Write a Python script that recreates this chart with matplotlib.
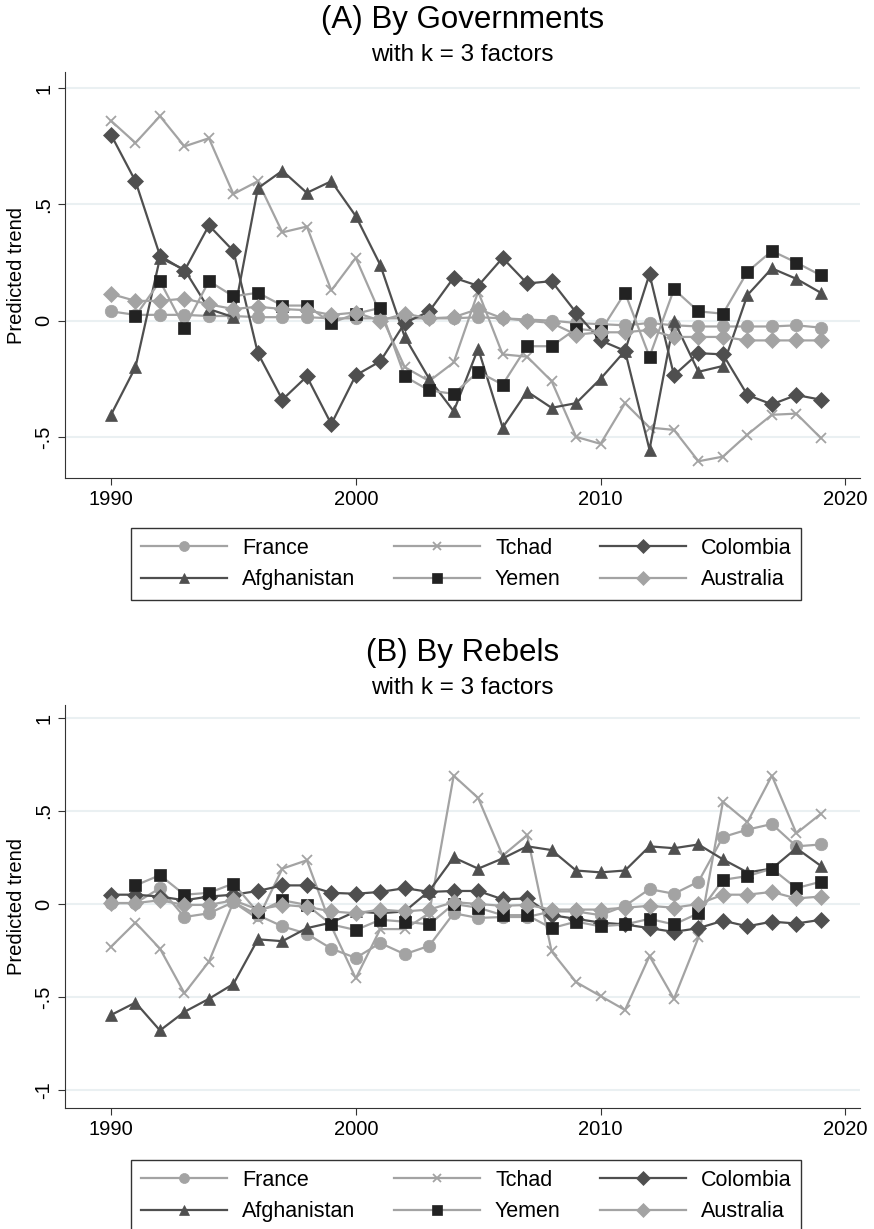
import numpy as np
import matplotlib
matplotlib.use("Agg")
import matplotlib.pyplot as plt

plt.rcParams['font.family'] = ['Liberation Sans', 'DejaVu Sans']

years = list(range(1990, 2020))
nan = np.nan

# (A) By Governments
france_a = [0.04, 0.025, 0.025, 0.025, 0.02, 0.02, 0.015, 0.015, 0.015, 0.01, 0.01, 0.01, 0.01, 0.01, 0.01,
            0.015, 0.01, 0.005, 0.0, -0.01, -0.015, -0.02, -0.01, -0.02, -0.025, -0.025, -0.025, -0.025, -0.02, -0.03]
tchad_a = [0.86, 0.765, 0.88, 0.75, 0.785, 0.545, 0.60, 0.38, 0.405, 0.13, 0.27, 0.03, -0.20, -0.26, -0.18,
           0.125, -0.145, -0.155, -0.26, -0.50, -0.53, -0.355, -0.46, -0.47, -0.605, -0.585, -0.49, -0.405, -0.40, -0.505]
colombia_a = [0.80, 0.60, 0.28, 0.215, 0.41, 0.30, -0.14, -0.34, -0.24, -0.445, -0.235, -0.175, -0.01, 0.04, 0.185,
              0.15, 0.27, 0.16, 0.17, 0.035, -0.085, -0.13, 0.20, -0.235, -0.14, -0.145, -0.32, -0.36, -0.32, -0.34]
afghanistan_a = [-0.405, -0.20, 0.27, 0.22, 0.05, 0.015, 0.57, 0.645, 0.55, 0.60, 0.45, 0.24, -0.07, -0.25, -0.39,
                 -0.12, -0.46, -0.305, -0.375, -0.355, -0.25, -0.13, -0.555, 0.0, -0.22, -0.195, 0.11, 0.225, 0.18, 0.12]
yemen_a = [nan, 0.02, 0.17, -0.03, 0.17, 0.105, 0.12, 0.065, 0.065, -0.01, 0.03, 0.055, -0.24, -0.30, -0.315,
           -0.22, -0.275, -0.11, -0.11, -0.035, -0.045, 0.12, -0.155, 0.135, 0.04, 0.03, 0.21, 0.30, 0.25, 0.195]
australia_a = [0.115, 0.085, 0.085, 0.095, 0.07, 0.05, 0.06, 0.05, 0.045, 0.025, 0.035, 0.0, 0.03, 0.01, 0.015,
               0.05, 0.01, 0.0, -0.01, -0.06, -0.05, -0.05, -0.04, -0.07, -0.07, -0.07, -0.085, -0.085, -0.085, -0.085]

# (B) By Rebels
france_b = [0.005, 0.005, 0.085, -0.07, -0.05, 0.01, -0.06, -0.12, -0.16, -0.24, -0.29, -0.21, -0.27, -0.225, -0.05,
            -0.075, -0.07, -0.07, -0.04, -0.04, -0.06, -0.01, 0.08, 0.055, 0.12, 0.36, 0.40, 0.43, 0.31, 0.32]
tchad_b = [-0.23, -0.10, -0.24, -0.48, -0.31, 0.01, -0.08, 0.19, 0.235, -0.12, -0.40, -0.135, -0.135, -0.05, 0.69,
           0.57, 0.26, 0.37, -0.255, -0.42, -0.495, -0.57, -0.28, -0.51, -0.18, 0.55, 0.44, 0.69, 0.38, 0.485]
colombia_b = [0.05, 0.05, 0.04, 0.02, 0.04, 0.05, 0.07, 0.10, 0.10, 0.06, 0.055, 0.065, 0.085, 0.065, 0.07,
              0.07, 0.025, 0.03, -0.06, -0.08, -0.10, -0.11, -0.13, -0.15, -0.13, -0.09, -0.12, -0.095, -0.105, -0.085]
afghanistan_b = [-0.597, -0.53, -0.68, -0.58, -0.51, -0.43, -0.19, -0.20, -0.13, -0.10, -0.04, -0.05, -0.04, 0.07, 0.25,
                 0.19, 0.245, 0.31, 0.29, 0.18, 0.17, 0.18, 0.31, 0.30, 0.32, 0.24, 0.17, 0.19, 0.30, 0.205]
yemen_b = [nan, 0.10, 0.155, 0.05, 0.06, 0.11, -0.045, 0.02, -0.005, -0.11, -0.14, -0.085, -0.095, -0.11, 0.0,
           -0.02, -0.06, -0.06, -0.13, -0.095, -0.12, -0.11, -0.08, -0.11, -0.05, 0.13, 0.15, 0.19, 0.085, 0.12]
australia_b = [0.005, 0.005, 0.02, -0.005, -0.005, 0.02, -0.03, -0.005, -0.015, -0.04, -0.05, -0.03, -0.04, -0.03, 0.01,
               0.0, -0.01, -0.005, -0.03, -0.03, -0.03, -0.02, -0.01, -0.02, 0.0, 0.05, 0.05, 0.065, 0.03, 0.04]

names = ["France", "Tchad", "Colombia", "Afghanistan", "Yemen", "Australia"]

light = "#a3a3a3"
dark = "#4f4f4f"
black = "#222222"
# line colour, marker, marker colour, marker size
styles = {
    "France": (light, "o", light, 9),
    "Tchad": (light, "x", light, 7),
    "Colombia": (dark, "D", dark, 8.5),
    "Afghanistan": (dark, "^", dark, 9),
    "Yemen": (light, "s", black, 8.5),
    "Australia": (light, "D", light, 8.5),
}

W, H = 874, 1229
fig = plt.figure(figsize=(W / 100, H / 100), dpi=100)


def panel(top_px, bottom_px, series, ylo, yhi, yticks, ylabels, title, legend_y):
    ax = fig.add_axes([65 / W, 1 - bottom_px / H, 795 / W, (bottom_px - top_px) / H])
    lines = {}
    for n in names:
        c, m, mc, ms = styles[n]
        ln, = ax.plot(years, series[n], color=c, lw=1.6, marker=m, ms=ms,
                      mfc=mc, mec=mc, mew=1.3 if m == "x" else 0.5, label=n)
        lines[n] = ln
    ax.set_xlim(1988.12, 2020.6)
    ax.set_ylim(ylo, yhi)
    ax.set_xticks([1990, 2000, 2010, 2020])
    ax.set_yticks(yticks)
    ax.set_yticklabels(ylabels, rotation=90, va="center")
    for y in yticks:
        ax.axhline(y, color="#eaf0f2", lw=1.5, zorder=0)
    for s in ["top", "right"]:
        ax.spines[s].set_visible(False)
    ax.spines["left"].set_color("#333333")
    ax.spines["bottom"].set_color("#333333")
    ax.tick_params(labelsize=14.5, length=5, color="#333333", direction="out")
    ax.set_ylabel("Predicted trend", fontsize=14.5, labelpad=6)
    xc = (65 + 860) / 2 / W
    fig.text(xc, 1 - (top_px - 52) / H, title, ha="center", va="center", fontsize=22.5)
    fig.text(xc, 1 - (top_px - 17) / H, "with k = 3 factors", ha="center", va="center", fontsize=17.5)
    order = ["France", "Afghanistan", "Tchad", "Yemen", "Colombia", "Australia"]
    leg = fig.legend([lines[n] for n in order], order, loc="center",
                     bbox_to_anchor=(466 / W, 1 - legend_y / H), ncol=3, fontsize=15.5,
                     frameon=True, fancybox=False, edgecolor="black", handlelength=4.0,
                     handletextpad=0.7, columnspacing=1.8, labelspacing=0.5,
                     borderpad=0.45, markerscale=0.8)
    leg.get_frame().set_linewidth(1.0)
    return ax


panel(72, 478,
      {"France": france_a, "Tchad": tchad_a, "Colombia": colombia_a,
       "Afghanistan": afghanistan_a, "Yemen": yemen_a, "Australia": australia_a},
      -0.677, 1.07, [-0.5, 0, 0.5, 1], ["-.5", "0", ".5", "1"],
      "(A) By Governments", 564)

panel(705, 1108,
      {"France": france_b, "Tchad": tchad_b, "Colombia": colombia_b,
       "Afghanistan": afghanistan_b, "Yemen": yemen_b, "Australia": australia_b},
      -1.097, 1.07, [-1, -0.5, 0, 0.5, 1], ["-1", "-.5", "0", ".5", "1"],
      "(B) By Rebels", 1196)

fig.savefig("out.png", dpi=100)
